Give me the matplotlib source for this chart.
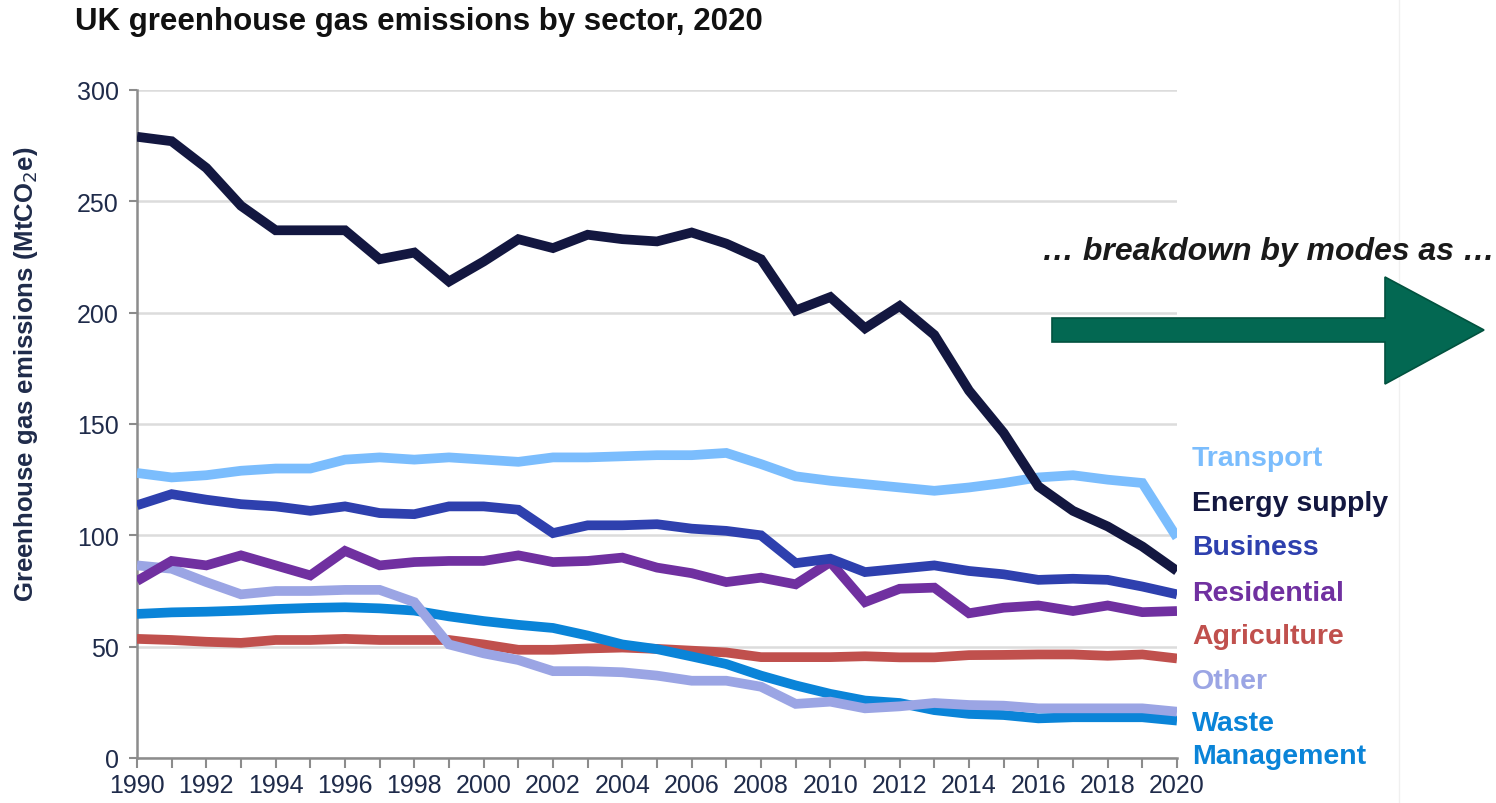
import matplotlib.pyplot as plt
import matplotlib.patches as mpatches
from matplotlib.lines import Line2D

years = list(range(1990, 2021))

energy_supply = [279, 277, 265, 248, 237, 237, 237, 224, 227, 214, 223, 233, 229, 235,
                 233, 232, 236, 231, 224, 201, 207, 193, 203, 190, 165, 146, 122, 111,
                 104, 95, 84]
transport = [128, 126, 127, 129, 130, 130, 134, 135, 134, 135, 134, 133, 135, 135,
             135.5, 136, 136, 137, 132, 126.5, 124.5, 123, 121.5, 120, 121.5, 123.5,
             126, 127, 125, 123.5, 99]
business = [113.5, 118.5, 116, 114, 113, 111, 113, 110, 109.5, 113, 113, 111.5, 101,
            104.5, 104.5, 105, 103, 102, 100, 87.5, 89.5, 83.5, 85, 86.5, 84, 82.5,
            80, 80.5, 80, 77, 73.5]
residential = [79.5, 88.5, 86.5, 91, 86.5, 82, 93, 86.5, 88, 88.5, 88.5, 91, 88, 88.5,
               90, 85.5, 83, 79, 81, 78, 88, 70, 76, 76.5, 65, 67.5, 68.5, 66, 68.5,
               65.5, 66]
agriculture = [53.5, 53, 52.2, 51.7, 53, 53, 53.5, 53, 53, 53, 51, 48.6, 48.6, 49.2,
               49.6, 49, 48.2, 47.4, 45.3, 45.3, 45.3, 45.7, 45.2, 45.2, 46.2, 46.3,
               46.5, 46.5, 45.9, 46.5, 44.7]
other = [86.5, 85, 79, 73.5, 75, 75, 75.5, 75.5, 70, 51, 47, 44, 39, 39, 38.5, 37,
         34.7, 34.7, 32, 24.3, 25.3, 22.3, 23.2, 24.7, 23.8, 23.5, 22.3, 22.3, 22.3,
         22.3, 20.8]
waste = [64.7, 65.4, 65.7, 66.2, 66.9, 67.4, 67.7, 67.2, 66.2, 63.6, 61.5, 59.8, 58.4,
         55, 51, 48.9, 45.6, 42.2, 37, 32.6, 28.8, 25.8, 24.7, 21.5, 19.8, 19.3, 17.8,
         18.3, 18.3, 18.3, 16.8]

series = [
    ("Energy supply", energy_supply, "#131740"),
    ("Transport", transport, "#7bbdfd"),
    ("Business", business, "#2e40ae"),
    ("Residential", residential, "#7030a0"),
    ("Agriculture", agriculture, "#c0504d"),
    ("Other", other, "#9ba5e4"),
    ("Waste Management", waste, "#0a84d8"),
]
# bottom to top, as stacked in the picture
draw_order = ["Agriculture", "Waste Management", "Other", "Residential", "Business",
              "Transport", "Energy supply"]

# end labels (text, series it belongs to, baseline in px from top)
end_labels = [
    ("Transport", "Transport", 466),
    ("Energy supply", "Energy supply", 511),
    ("Business", "Business", 555),
    ("Residential", "Residential", 601),
    ("Agriculture", "Agriculture", 644),
    ("Other", "Other", 689),
    ("Waste", "Waste Management", 731),
    ("Management", "Waste Management", 764),
]

W, H = 1496, 804
plt.rcParams['font.family'] = ['Liberation Sans', 'DejaVu Sans']
fig = plt.figure(figsize=(W / 100, H / 100), dpi=100)
ax = fig.add_axes([137 / W, 1 - 759 / H, (1177 - 137) / W, (759 - 91) / H])

lookup = {name: (vals, col) for name, vals, col in series}
for name in draw_order:
    vals, col = lookup[name]
    ax.plot(years, vals, color=col, lw=7, solid_joinstyle="miter",
            solid_capstyle="butt", zorder=3)

ax.set_xlim(1990, 2020)
ax.set_ylim(0, 300)
ax.set_yticks(range(0, 301, 50))
ax.set_xticks(years, minor=True)
ax.set_xticks(range(1990, 2021, 2))
ax.grid(axis="y", color="#dcdcdc", lw=1.8, zorder=0)
ax.set_axisbelow(True)
for side in ("top", "right"):
    ax.spines[side].set_visible(False)
for side in ("left", "bottom"):
    ax.spines[side].set_color("#8c8c8c")
    ax.spines[side].set_linewidth(1.8)
ax.tick_params(axis="y", length=6, width=1.5, color="#8c8c8c", labelsize=18,
               labelcolor="#1f2b4a", pad=7)
ax.tick_params(axis="x", which="both", length=7, width=1.5, color="#8c8c8c",
               labelsize=18, labelcolor="#1f2b4a", pad=4)

fig.text(26 / W, 1 - 374 / H, "Greenhouse gas emissions (MtCO$_2$e)", fontsize=18.5,
         fontweight="bold", color="#1f2b4a", rotation=90, ha="center", va="center")

fig.text(75 / W, 1 - 22 / H, "UK greenhouse gas emissions by sector, 2020",
         fontsize=22.5, fontweight="bold", color="#111111", va="center", ha="left")

for text, key, base in end_labels:
    fig.text(1192 / W, 1 - base / H, text, fontsize=20.5, fontweight="bold",
             color=lookup[key][1], va="baseline", ha="left")

fig.text(1268 / W, 1 - 252 / H, "\u2026 breakdown by modes as \u2026", fontsize=23,
         fontweight="bold", style="italic", color="#1a1a1a", ha="center", va="center")

fig.lines.append(Line2D([1399 / W, 1399 / W], [0, 1], transform=fig.transFigure,
                        color="#f0f0f0", lw=1, zorder=0))

arrow_px = [(1052, 319), (1385, 319), (1385, 278), (1484, 331), (1385, 385),
            (1385, 343), (1052, 343)]
arrow = mpatches.Polygon([(x / W, 1 - y / H) for x, y in arrow_px], closed=True,
                         transform=fig.transFigure, facecolor="#036852",
                         edgecolor="#02523f", lw=1.2, zorder=5)
fig.patches.append(arrow)

fig.savefig("out.png", dpi=100)
